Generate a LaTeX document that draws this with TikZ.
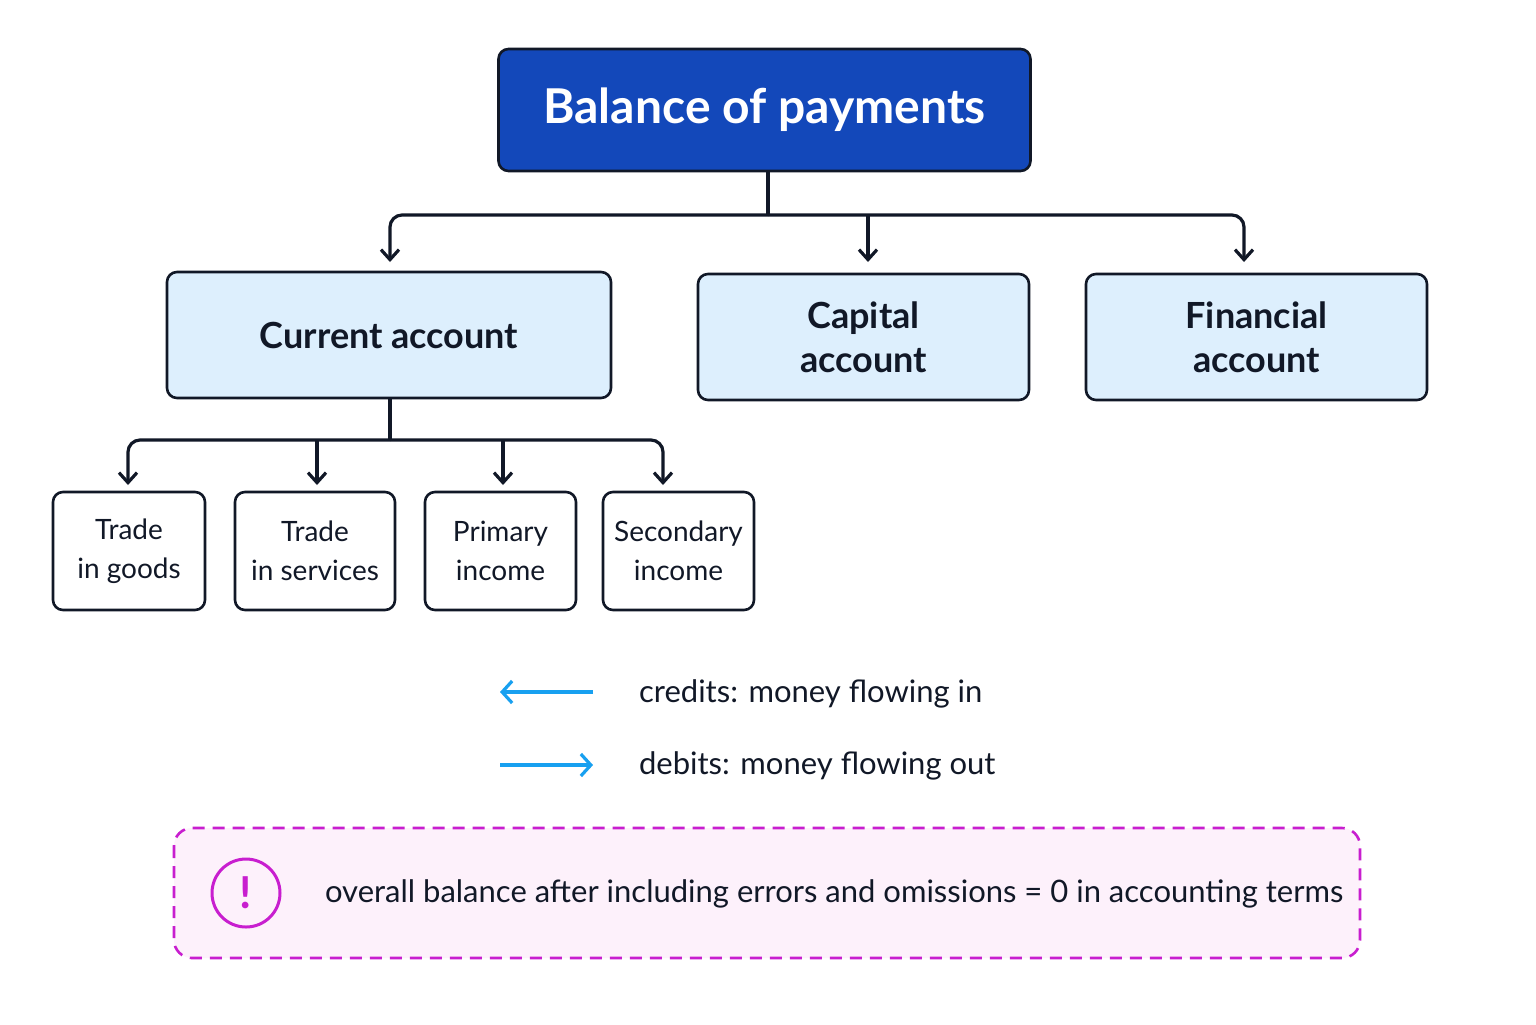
\documentclass[tikz,border=0pt]{standalone}
\usepackage{fontspec}
\setmainfont{Lato}
\usetikzlibrary{arrows.meta,calc}
\definecolor{navy}{HTML}{111827}
\definecolor{titleblue}{HTML}{1348BA}
\definecolor{lightblue}{HTML}{DDEFFD}
\definecolor{legblue}{HTML}{18A0F0}
\definecolor{mag}{HTML}{C81ECF}
\definecolor{pinkbg}{HTML}{FDF1FB}
\tikzset{
  box/.style={draw=navy,line width=1.3pt,rounded corners=5pt,align=center,inner sep=0pt,text=navy},
  conn/.style={draw=navy,line width=1.6pt},
  arr/.style={conn,-{Straight Barb[length=5pt,width=9pt]}},
  legarr/.style={draw=legblue,line width=1.6pt,-{Straight Barb[length=5pt,width=11pt]}}
}
\begin{document}
\begin{tikzpicture}[x=0.5pt,y=-0.5pt]
\path[use as bounding box,fill=white] (0,0) rectangle (1536,1024);
% title
\node[box,fill=titleblue,minimum width=266pt,minimum height=61pt,text=white,font=\fontsize{24}{28}\selectfont\bfseries] (bop) at (764.5,110) {Balance of payments};
% level 1
\node[box,fill=lightblue,minimum width=222pt,minimum height=63pt,font=\fontsize{18}{21}\selectfont\bfseries] (cur) at (389,335) {Current account};
\node[box,fill=lightblue,minimum width=165.5pt,minimum height=63pt,font=\fontsize{18}{22}\selectfont\bfseries] (cap) at (863.5,337) {Capital\\account};
\node[box,fill=lightblue,minimum width=170.5pt,minimum height=63pt,font=\fontsize{18}{22}\selectfont\bfseries] (fin) at (1256.5,337) {Financial\\account};
% level 2
\tikzset{small/.style={box,fill=white,minimum height=59pt,font=\fontsize{14}{19.5}\selectfont}}
\node[small,minimum width=76pt] (tg) at (129,551) {Trade\\in goods};
\node[small,minimum width=80pt] (ts) at (315,551) {Trade\\in services};
\node[small,minimum width=75.5pt] (pi) at (500.5,551) {Primary\\income};
\node[small,minimum width=75.5pt] (si) at (678.5,551) {Secondary\\income};
% connectors level 1
\coordinate (j1) at (768,215);
\draw[conn] (bop.south -| j1) -- (j1);
\draw[arr,rounded corners=6pt] (j1) -- (390,215) -- (390,262);
\draw[arr] (868,215) -- (868,262);
\draw[arr,rounded corners=6pt] (j1) -- (1244,215) -- (1244,262);
% connectors level 2
\coordinate (j2) at (390,440);
\draw[conn] (cur.south -| j2) -- (j2);
\draw[arr,rounded corners=6pt] (j2) -- (128,440) -- (128,485);
\draw[arr] (317,440) -- (317,485);
\draw[arr] (503,440) -- (503,485);
\draw[arr,rounded corners=6pt] (j2) -- (663,440) -- (663,485);
% legend
\coordinate (l1a) at (593,692); \coordinate (l1b) at (500,692);
\coordinate (l2a) at (500,765); \coordinate (l2b) at (593,765);
\draw[legarr] (l1a) -- (l1b);
\draw[legarr] (l2a) -- (l2b);
\node[anchor=west,font=\fontsize{15.5}{18}\selectfont,text=navy] (c) at (632,694) {credits: money flowing in};
\node[anchor=west,font=\fontsize{15.5}{18}\selectfont,text=navy] (d) at (632,766) {debits: money flowing out};
% note
\draw[draw=mag,fill=pinkbg,line width=1.3pt,dashed,dash pattern=on 6pt off 4pt,rounded corners=9pt] (174,828) rectangle (1360,958);
\node[circle,draw=mag,line width=1.5pt,minimum size=34pt,inner sep=0pt,text=mag,font=\fontsize{22}{22}\selectfont\bfseries] (ex) at (246,893) {!};
\node[anchor=west,font=\fontsize{15.5}{18}\selectfont,text=navy] (note) at (318,894) {overall balance after including errors and omissions = 0 in accounting terms};
\end{tikzpicture}
\end{document}
